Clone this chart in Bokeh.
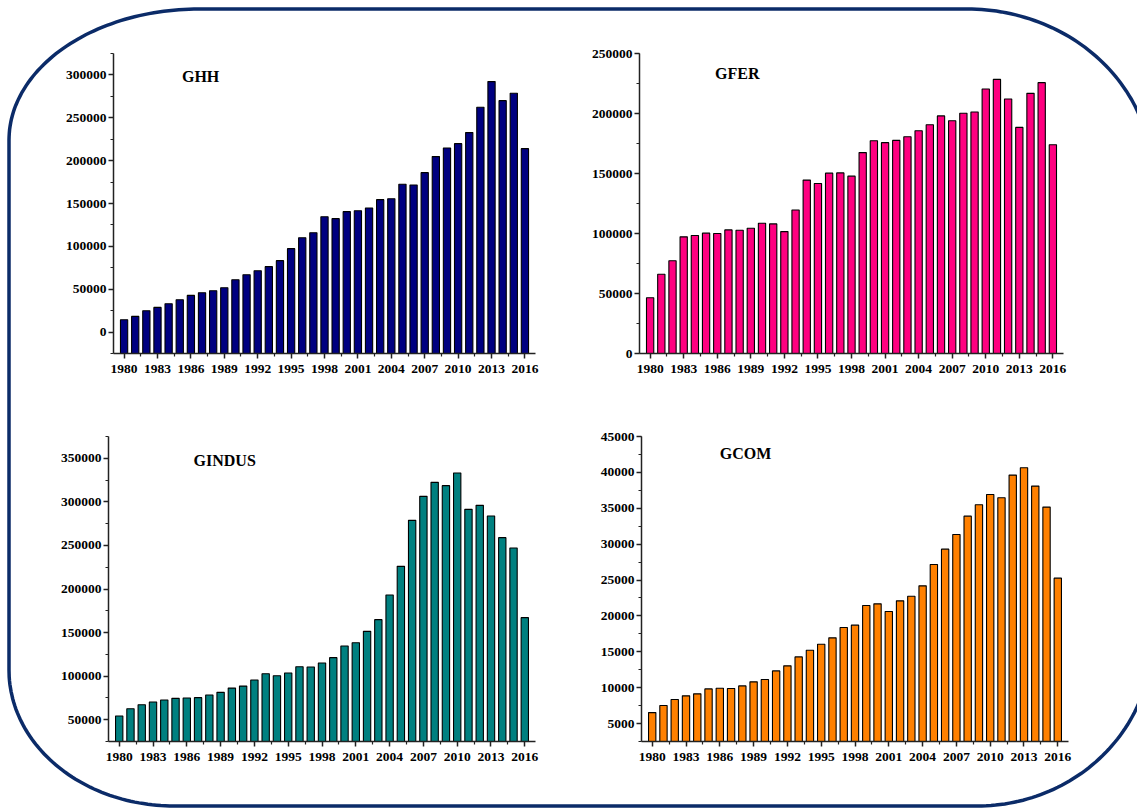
import numpy as np
from urllib.parse import quote
from bokeh.plotting import figure
from bokeh.layouts import column, row
from bokeh.models import Range1d, FixedTicker, Label, BasicTickFormatter
from bokeh.embed import file_html
from bokeh.resources import INLINE

# ---- data -------------------------------------------------------------
years = list(range(1980, 2017))

ghh = [14400, 18300, 24900, 28800, 33100, 37700, 42800, 45900, 48200, 51700,
       61100, 66900, 71600, 76300, 83300, 97300, 110100, 115900, 134600, 132300,
       140500, 141600, 144700, 154500, 155600, 172400, 171600, 186000, 204700,
       214800, 219800, 232700, 262300, 292200, 270000, 278600, 214000]

gfer = [46400, 66000, 77300, 97200, 98300, 100300, 100000, 103000, 102700, 104400,
        108500, 108000, 101600, 119600, 144500, 141700, 150300, 150500, 147800,
        167400, 177300, 175700, 177600, 180600, 185600, 190600, 198000, 193900,
        200200, 201300, 220400, 228400, 212100, 188400, 216800, 225700, 174000]

gindus = [54200, 62600, 67200, 70300, 72600, 74500, 74900, 75300, 78300, 81400,
          86300, 88600, 95500, 102800, 100500, 103600, 110800, 110500, 115000,
          121200, 134600, 138400, 151400, 164800, 193100, 226000, 278800, 306300,
          322400, 318600, 333100, 291400, 296000, 283800, 258900, 247000, 167100]

gcom = [6530, 7510, 8350, 8860, 9140, 9830, 9930, 9880, 10250, 10810, 11130,
        12340, 13040, 14290, 15220, 16060, 16940, 18380, 18710, 21450, 21680,
        20610, 22100, 22750, 24190, 27170, 29300, 31350, 33900, 35480, 36920,
        36460, 39620, 40640, 38090, 35160, 25260]

year_ticks = list(range(1980, 2017, 3))
year_minor = [y + 1.5 for y in range(1980, 2016, 3)]

FONT = "Liberation Serif"
NAVY = "#0b2b68"
PAGE_W, PAGE_H = 1137, 809


def frame_background():
    """Rounded outer frame of the page as an SVG background image."""
    corners = [
        ((9 + 190, 9 + 131), 190, 131, np.pi, 1.5 * np.pi),
        ((1152 - 185, 9 + 167), 185, 167, 1.5 * np.pi, 2 * np.pi),
        ((1152 - 175, 806 - 166), 175, 166, 0.0, 0.5 * np.pi),
        ((9 + 165, 806 - 136), 165, 136, 0.5 * np.pi, np.pi),
    ]
    pts = []
    for (cx, cy), rx, ry, a0, a1 in corners:
        t = np.linspace(a0, a1, 60)
        pts.extend(zip(cx + rx * np.cos(t), cy + ry * np.sin(t)))
    d = "M" + " L".join(f"{x:.1f},{y:.1f}" for x, y in pts) + " Z"
    svg = (f"<svg xmlns='http://www.w3.org/2000/svg' width='{PAGE_W}' "
           f"height='{PAGE_H}'><path d='{d}' fill='none' stroke='{NAVY}' "
           f"stroke-width='3.5'/></svg>")
    return f'url("data:image/svg+xml;charset=utf-8,{quote(svg)}")'


def panel(vals, color, name, size, borders, yr, majors, minors, label_at):
    w, h = size
    left, right, top, bottom = borders
    p = figure(width=w, height=h, output_backend="svg", toolbar_location=None,
               x_range=Range1d(1979.05, 2016.95), y_range=Range1d(*yr),
               min_border_left=left, min_border_right=right,
               min_border_top=top, min_border_bottom=bottom)
    p.background_fill_color = None
    p.border_fill_color = None
    p.outline_line_color = None
    p.xgrid.visible = False
    p.ygrid.visible = False

    p.vbar(x=years, top=vals, bottom=yr[0], width=0.65,
           fill_color=color, line_color="black", line_width=1.1)

    for ax in (p.xaxis[0], p.yaxis[0]):
        ax.axis_line_color = "#222222"
        ax.axis_line_width = 1.5
        ax.major_tick_line_color = "#222222"
        ax.minor_tick_line_color = "#222222"
        ax.major_tick_line_width = 1.5
        ax.minor_tick_line_width = 1.2
        ax.major_tick_in = 0
        ax.major_tick_out = 5
        ax.minor_tick_in = 0
        ax.minor_tick_out = 3
        ax.major_label_text_font = FONT
        ax.major_label_text_font_style = "bold"
        ax.major_label_text_font_size = "13.5px"
        ax.major_label_text_color = "black"

    p.xaxis.ticker = FixedTicker(ticks=year_ticks, minor_ticks=year_minor)
    p.xaxis.major_label_standoff = 6
    p.yaxis.ticker = FixedTicker(ticks=majors, minor_ticks=minors)
    p.yaxis.formatter = BasicTickFormatter(use_scientific=False)
    p.yaxis.major_label_standoff = 2

    p.add_layout(Label(x=label_at[0], y=label_at[1], text=name,
                       text_font=FONT, text_font_style="bold",
                       text_font_size="16px", text_color="black",
                       text_baseline="middle", text_align="left"))
    return p


p1 = panel(ghh, "#000080", "GHH", (568, 400), (113, 33, 53, 47),
           (-25000, 325000), list(range(0, 300001, 50000)),
           list(range(-25000, 325001, 25000)), (1985.2, 298000))
p2 = panel(gfer, "#ff0080", "GFER", (569, 400), (71, 74, 52, 47),
           (0, 250000), list(range(0, 250001, 50000)),
           list(range(0, 250001, 25000)), (1985.8, 233000))
p3 = panel(gindus, "#008080", "GINDUS", (568, 409), (108, 33, 36, 68),
           (25000, 375000), list(range(50000, 350001, 50000)),
           list(range(25000, 375001, 25000)), (1986.6, 348000))
p4 = panel(gcom, "#ff8000", "GCOM", (569, 409), (73, 69, 36, 68),
           (2500, 45000), list(range(5000, 45001, 5000)),
           list(range(2500, 45001, 2500)), (1986.0, 42700))

layout = column(row(p1, p2), row(p3, p4),
                styles={"background-color": "white",
                        "background-image": frame_background(),
                        "background-repeat": "no-repeat",
                        "background-size": f"{PAGE_W}px {PAGE_H}px",
                        "overflow": "hidden"})

open("out.html", "w").write(file_html(layout, INLINE))
